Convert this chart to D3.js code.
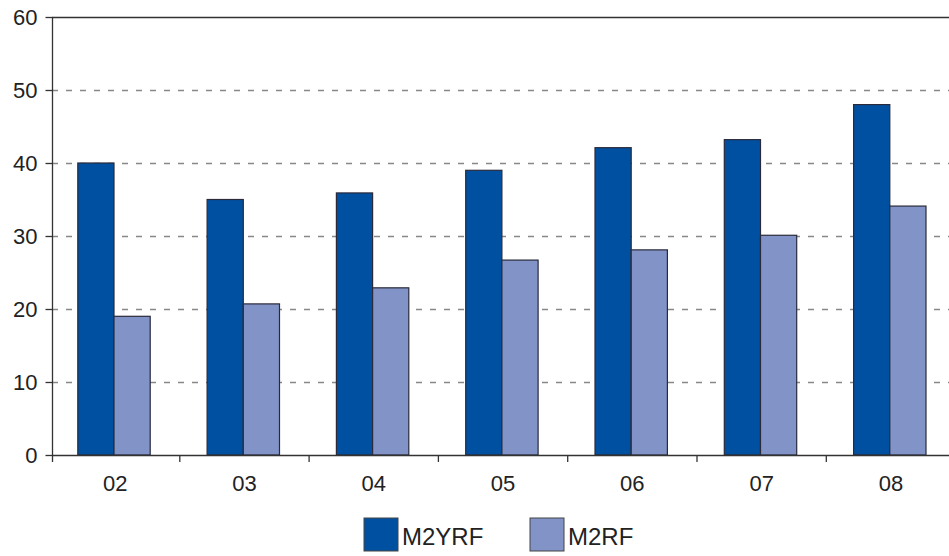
<!DOCTYPE html>
<html><head><meta charset="utf-8">
<script src="https://cdn.jsdelivr.net/npm/d3@7"></script>
<style>body{margin:0;background:#fff}svg{display:block}text{font-family:"Liberation Sans",Arial,sans-serif;fill:#222}</style>
</head><body><svg id="c" width="949" height="556"></svg>
<script>
const categories = ["02","03","04","05","06","07","08"];
const seriesNames = ["M2YRF","M2RF"];
const m2yrf = [40, 35, 35.9, 39, 42.1, 43.2, 48];
const m2rf = [19, 20.7, 22.9, 26.7, 28.1, 30.1, 34.1];
const yTicks = [0,10,20,30,40,50,60];
const colors = ["#0050A2","#8193C7"];

const svg = d3.select("#c");
const L = 52, R = 949, T = 17, B = 455;
const x = d3.scaleBand().domain(categories).range([50.5, 50.5 + 7*129.3]);
const y = d3.scaleLinear().domain([0,60]).range([B, T]);
const bw = 36.2, off = 27.3;

// gridlines
svg.append("g").selectAll("line").data(yTicks.filter(d=>d>0&&d<60)).join("line")
  .attr("x1", L).attr("x2", R).attr("y1", d=>y(d)+0.5).attr("y2", d=>y(d)+0.5)
  .attr("stroke","#888").attr("stroke-width",1.3).attr("stroke-dasharray","6,8");
svg.append("line").attr("x1",L).attr("x2",R).attr("y1",y(60)+0.5).attr("y2",y(60)+0.5).attr("stroke","#333").attr("stroke-width",1.3);

// bars
const data = [m2yrf, m2rf];
data.forEach((vals, si) => {
  svg.append("g").selectAll("rect").data(vals).join("rect")
    .attr("x", (d,i)=>x(categories[i]) + off + si*bw)
    .attr("y", d=>y(d)).attr("width", bw).attr("height", d=>B - y(d))
    .attr("fill", colors[si]).attr("stroke","#2a2a3a").attr("stroke-width",1.2);
});

// axes
const ya = svg.append("g").attr("transform",`translate(${L+0.5},0)`)
  .call(d3.axisLeft(y).tickValues(yTicks).tickSize(7).tickPadding(8).tickFormat(d3.format("d")));
ya.select(".domain").attr("stroke","#333").attr("stroke-width",1.3).attr("d",`M-0,${T}V${B}`);
ya.selectAll(".tick line").attr("stroke","#333").attr("stroke-width",1.3);
ya.selectAll("text").style("font-size","22px").attr("fill","#222");

const xa = svg.append("g").attr("transform",`translate(0,${B+0.5})`)
  .call(d3.axisBottom(x).tickSize(0).tickPadding(20));
xa.select(".domain").attr("stroke","#333").attr("stroke-width",1.3).attr("d",`M${L},0H${R}`);
xa.selectAll("text").style("font-size","22px").attr("fill","#222");
// category boundary ticks
svg.append("g").selectAll("line").data(categories.slice(1)).join("line")
  .attr("x1",d=>x(d)).attr("x2",d=>x(d))
  .attr("y1",B).attr("y2",B+7).attr("stroke","#333").attr("stroke-width",1.3);
svg.append("line").attr("x1",L+0.5).attr("x2",L+0.5).attr("y1",B).attr("y2",B+7).attr("stroke","#333").attr("stroke-width",1.3);

// legend
const lg = svg.append("g");
const lx = [364, 530];
seriesNames.forEach((n,i)=>{
  lg.append("rect").attr("x",lx[i]).attr("y",518).attr("width",34).attr("height",33)
    .attr("fill",colors[i]).attr("stroke","#444").attr("stroke-width",1);
  lg.append("text").attr("x",lx[i]+38).attr("y",545).text(n).style("font-size","24px");
});
</script></body></html>
